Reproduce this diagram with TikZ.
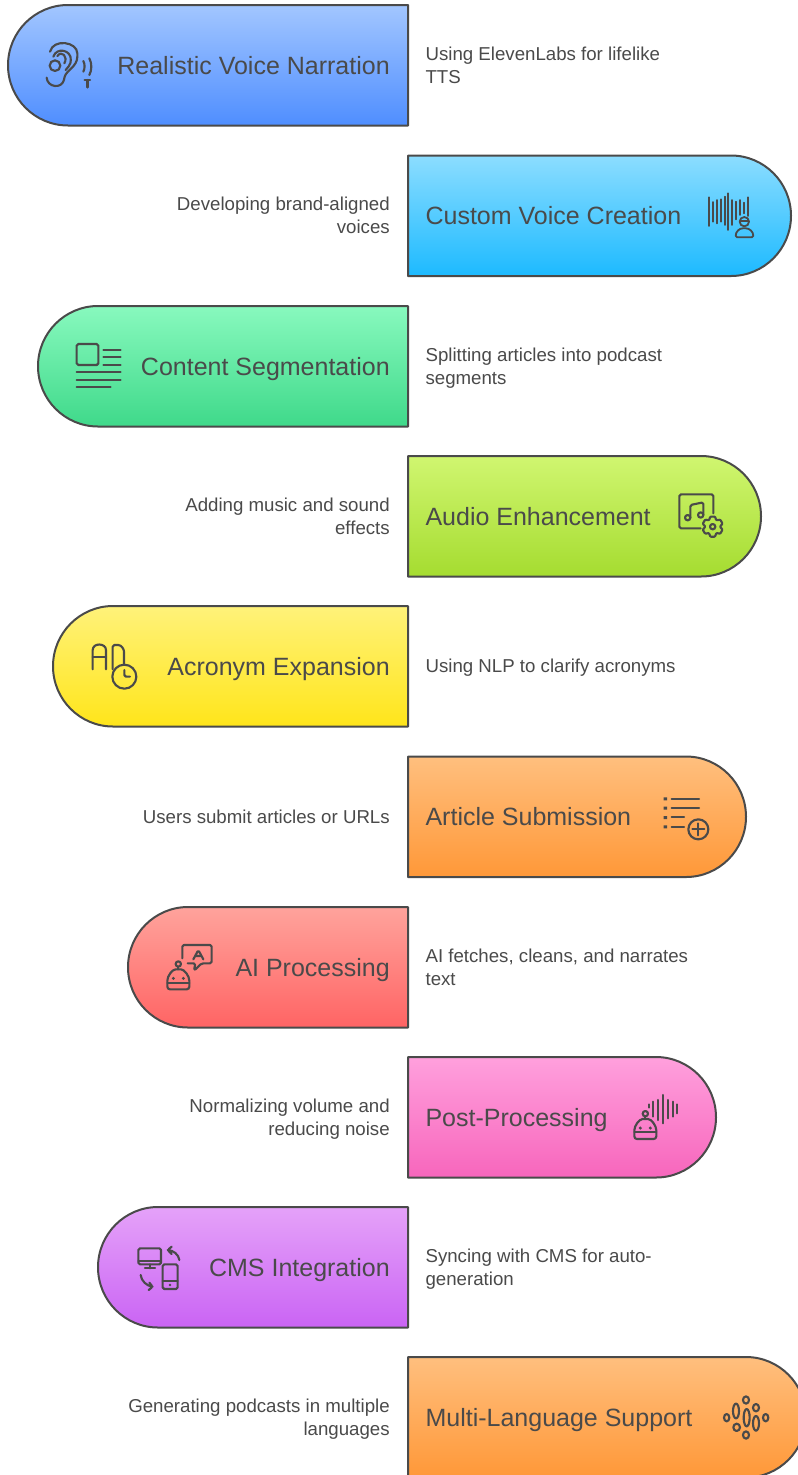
\documentclass[tikz,border=0pt]{standalone}
\usepackage{fontspec}
\setmainfont{Liberation Sans}
\definecolor{ink}{HTML}{4A4A4A}
\definecolor{at}{HTML}{A2C6FF}\definecolor{ab}{HTML}{4F8EFF}
\definecolor{bt}{HTML}{8CDDFF}\definecolor{bb}{HTML}{1DBAFF}
\definecolor{ct}{HTML}{88F9BE}\definecolor{cb}{HTML}{3FD98A}
\definecolor{dt}{HTML}{D0F670}\definecolor{db}{HTML}{A5DC30}
\definecolor{et}{HTML}{FFF27A}\definecolor{eb}{HTML}{FFE51A}
\definecolor{ft}{HTML}{FFBF7E}\definecolor{fb}{HTML}{FF9838}
\definecolor{gt}{HTML}{FFA39C}\definecolor{gb}{HTML}{FF6464}
\definecolor{ht}{HTML}{FFA0DD}\definecolor{hb}{HTML}{F766BC}
\definecolor{it}{HTML}{E5A2F9}\definecolor{ib}{HTML}{CA64F4}
\newcommand\titlefont{\fontsize{18.75}{22}\selectfont}
\newcommand\descfont{\fontsize{14}{17.25}\selectfont}
\tikzset{
  bandline/.style={draw=ink,line width=1.5pt,line join=round},
  titletext/.style={inner sep=0pt,text=ink,font=\titlefont},
  desctext/.style={inner sep=0pt,text=ink,font=\descfont,execute at begin node=\strut,execute at end node=\strut},
  icon/.style={draw=ink,line width=1.6pt,line cap=round,line join=round,rounded corners=1.2pt},
  thin icon/.style={icon,line width=1.35pt},
  iconframe/.style={shift={#1},x=0.25pt,y=-0.25pt},
}
% band: name, edge x, top y, top colour, bottom colour, title, description, description offset
\newcommand\leftband[8]{%
  \pgfmathsetmacro\lx{#2}\pgfmathsetmacro\ty{#3}\pgfmathsetmacro\by{#3+120.5}\pgfmathsetmacro\cy{#3+60.25}%
  \shadedraw[bandline,top color=#4,bottom color=#5]
    (408,\ty) -- (\lx+60,\ty) .. controls (\lx+26.9,\ty) and (\lx,\ty+27) .. (\lx,\cy)
    .. controls (\lx,\by-27) and (\lx+26.9,\by) .. (\lx+60,\by) -- (408,\by) -- cycle;
  \node[titletext,anchor=base east] (#1t) at (390,\cy+9.2) {#6};
  \node[desctext,anchor=west,align=left] (#1d) at (425.3,\cy+#8) {#7};
}
\newcommand\rightband[8]{%
  \pgfmathsetmacro\rx{#2}\pgfmathsetmacro\ty{#3}\pgfmathsetmacro\by{#3+120.5}\pgfmathsetmacro\cy{#3+60.25}%
  \shadedraw[bandline,top color=#4,bottom color=#5]
    (408,\ty) -- (\rx-60,\ty) .. controls (\rx-26.9,\ty) and (\rx,\ty+27) .. (\rx,\cy)
    .. controls (\rx,\by-27) and (\rx-26.9,\by) .. (\rx-60,\by) -- (408,\by) -- cycle;
  \node[titletext,anchor=base west] (#1t) at (425.3,\cy+9.2) {#6};
  \node[desctext,anchor=east,align=right] (#1d) at (390,\cy+#8) {#7};
}
\newcommand\robot{%
  \draw[icon,rounded corners=2pt] (0,60) -- (0,42) .. controls (0,20) and (15,0) .. (33,0) .. controls (51,0) and (66,20) .. (66,42) -- (66,60) -- cycle;
  \draw[icon] (0,40) -- (66,40);
  \draw[icon] (33,0) -- (33,-8);
  \draw[icon] (33,-16) circle (8);
  \fill[ink] (18,27) circle (5) (48,27) circle (5);
}
\begin{document}
\begin{tikzpicture}[x=0.75pt,y=-0.75pt]
\fill[white] (0,0) rectangle (798,1475);
\clip (0,0) rectangle (798,1475);

\leftband{a}{8}{5}{at}{ab}{Realistic Voice Narration}{Using ElevenLabs for lifelike\\TTS}{3.2}
\rightband{b}{791}{155.5}{bt}{bb}{Custom Voice Creation}{Developing brand-aligned\\voices}{3.2}
\leftband{c}{38}{306}{ct}{cb}{Content Segmentation}{Splitting articles into podcast\\segments}{3.2}
\rightband{d}{761}{456}{dt}{db}{Audio Enhancement}{Adding music and sound\\effects}{3.2}
\leftband{e}{53}{606}{et}{eb}{Acronym Expansion}{Using NLP to clarify acronyms}{2}
\rightband{f}{746}{756.5}{ft}{fb}{Article Submission}{Users submit articles or URLs}{2}
\leftband{g}{128}{907}{gt}{gb}{AI Processing}{AI fetches, cleans, and narrates\\text}{3.2}
\rightband{h}{716}{1057}{ht}{hb}{Post-Processing}{Normalizing volume and\\reducing noise}{3.2}
\leftband{i}{98}{1207}{it}{ib}{CMS Integration}{Syncing with CMS for auto-\\generation}{3.2}
\rightband{j}{806}{1357}{ft}{fb}{Multi-Language Support}{Generating podcasts in multiple\\languages}{3.2}

% ear
\begin{scope}[iconframe={(0,0)}]
  \draw[icon] (140,233) .. controls (142,262) and (185,268) .. (193,235) .. controls (198,212) and (232,200) .. (232,165) .. controls (232,125) and (160,115) .. (150,155);
  \draw[icon] (160,170) .. controls (170,140) and (215,150) .. (212,185) .. controls (210,195) and (203,203) .. (197,210);
  \draw[icon] (172,168) .. controls (185,150) and (205,170) .. (193,190);
  \draw[icon] (165,197) circle (16);
  \draw[icon] (250,183) .. controls (255,193) and (255,205) .. (250,215);
  \draw[icon] (268,175) .. controls (276,190) and (276,210) .. (268,225);
  \draw[icon,line width=1.8pt] (254,240) -- (270,240) (262,240) -- (262,262);
\end{scope}
% sound wave and person
\begin{scope}[iconframe={(640,150)}]
  \foreach \px/\pa/\pb in {208/142/228,220/156/215,232/150/220,243/148/215,254/140/225,265/130/240,277/150/225,288/155/208,300/150/195,312/158/190,323/142/198}
    \draw[thin icon] (\px,\pa) -- (\px,\pb);
  \draw[thin icon] (313,215) circle (14);
  \draw[thin icon] (300,213) -- (326,213);
  \draw[thin icon] (287,262) .. controls (287,245) and (298,235) .. (313,235) .. controls (328,235) and (340,245) .. (340,262) -- cycle;
\end{scope}
% article layout
\begin{scope}[iconframe={(30,300)}]
  \draw[icon] (140,132) rectangle (205,195);
  \foreach \py in {150,172,194} \draw[icon] (220,\py) -- (272,\py);
  \draw[icon] (140,217) -- (272,217) (140,240) -- (272,240) (140,262) -- (242,262);
\end{scope}
% music and gear
\begin{scope}[iconframe={(650,470)}]
  \draw[icon] (152,175) -- (88,175) -- (88,73) -- (190,73) -- (190,130);
  \draw[icon] (113,143) circle (8) (152,135) circle (8);
  \draw[icon] (121,143) -- (121,105) -- (160,97) -- (160,135);
  \begin{scope}[shift={(188,170)}]
    \draw[icon,rounded corners=0.6pt] (77:31) -- (103:31) -- (120:22) -- (137:31) -- (163:31) -- (180:22) -- (197:31) -- (223:31) -- (240:22) -- (257:31) -- (283:31) -- (300:22) -- (317:31) -- (343:31) -- (0:22) -- (17:31) -- (43:31) -- (60:22) -- cycle;
    \draw[icon] (0,0) circle (8);
  \end{scope}
\end{scope}
% acronym clock
\begin{scope}[iconframe={(70,620)}]
  \draw[icon] (68,148) -- (68,95) .. controls (68,68) and (108,68) .. (108,95) -- (108,148);
  \draw[icon] (68,112) -- (108,112);
  \draw[icon] (128,148) -- (128,75) -- (140,75) .. controls (155,75) and (162,88) .. (162,100) -- (162,132);
  \draw[icon] (163,170) circle (36);
  \draw[icon] (163,150) -- (163,170) -- (180,170);
\end{scope}
% list with plus
\begin{scope}[iconframe={(640,780)}]
  \fill[ink] (71,52) rectangle (81,61) (71,80) rectangle (81,89) (71,108) rectangle (81,117) (71,136) rectangle (81,145);
  \draw[icon] (95,56) -- (177,56) (95,84) -- (177,84) (95,112) -- (132,112) (95,140) -- (132,140);
  \draw[icon] (175,148) circle (30);
  \draw[icon] (157,148) -- (193,148) (175,130) -- (175,166);
\end{scope}
% robot with bubble
\begin{scope}[iconframe={(150,930)}]
  \draw[icon] (97,85) -- (97,45) -- (185,45) -- (185,100) -- (155,100) -- (132,122) -- (136,100) -- (113,100);
  \draw[icon] (130,88) -- (145,60) -- (160,88) (135,78) -- (155,78);
  \begin{scope}[shift={(52,118)}] \robot \end{scope}
\end{scope}
% robot with wave
\begin{scope}[iconframe={(620,1085)}]
  \foreach \px/\pa/\pb in {87/58/68,100/50/95,115/45/105,130/30/115,144/45/100,158/50/95,172/58/85}
    \draw[icon] (\px,\pa) -- (\px,\pb);
  \begin{scope}[shift={(43,102)}] \robot \end{scope}
\end{scope}
% devices
\begin{scope}[iconframe={(120,1235)}]
  \draw[icon] (55,40) rectangle (123,88);
  \draw[icon] (55,78) -- (123,78);
  \draw[icon] (90,88) -- (90,100) (75,100) -- (105,100);
  \draw[icon] (178,75) .. controls (176,58) and (160,46) .. (143,45) (155,35) -- (143,45) -- (155,57);
  \draw[icon] (62,120) .. controls (64,138) and (80,153) .. (98,155) (88,143) -- (98,155) -- (86,165);
  \draw[icon] (128,88) rectangle (173,162);
  \draw[icon] (128,138) -- (173,138);
  \fill[ink] (150,150) circle (4);
\end{scope}
% language dots
\begin{scope}[iconframe={(700,1350)}]
  \foreach \px/\py/\pa/\pb in {80/203/8/11,108/183/9/22,110/232/10/11,138/150/9/11,140/203/9/26,138/255/9/11,168/173/9/11,168/220/9/22,197/203/8/11}
    \draw[icon] (\px,\py) ellipse ({\pa} and {\pb});
\end{scope}
\end{tikzpicture}
\end{document}
